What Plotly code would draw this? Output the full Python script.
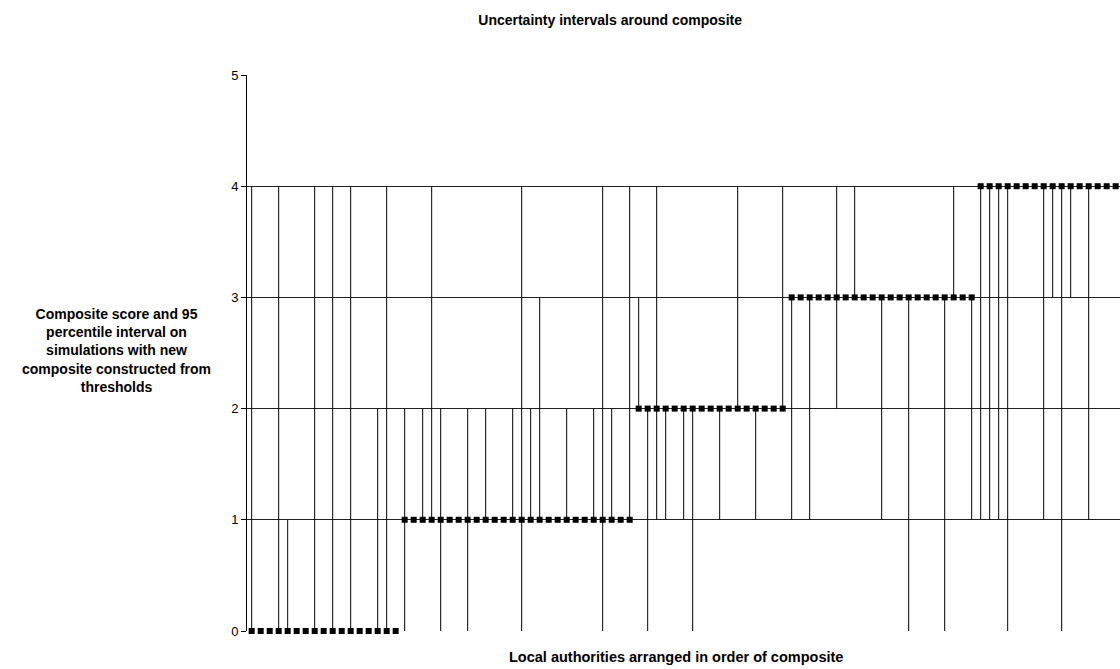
import plotly.graph_objects as go

# composite score per local authority (in ranked order) and 95 percentile interval
composite = [0] * 17 + [1] * 26 + [2] * 17 + [3] * 21 + [4] * 16
low = [0, 0, 0, 0, 0, 0, 0, 0, 0, 0, 0, 0, 0, 0, 0, 0, 0,
       0, 1, 1, 1, 0, 1, 1, 0, 1, 1, 1, 1, 1, 0, 1, 1, 1, 1, 1, 1, 1, 1, 0, 1, 1, 1,
       2, 0, 1, 1, 2, 1, 0, 2, 2, 1, 2, 2, 2, 1, 2, 2, 2,
       1, 3, 1, 3, 3, 2, 3, 3, 3, 3, 1, 3, 3, 0, 3, 3, 3, 0, 3, 3, 1,
       1, 1, 1, 0, 4, 4, 4, 1, 3, 0, 3, 4, 1, 4, 4, 4]
high = [4, 0, 0, 4, 1, 0, 0, 4, 0, 4, 0, 4, 0, 0, 2, 4, 0,
        2, 1, 2, 4, 2, 1, 1, 2, 1, 2, 1, 1, 2, 4, 2, 3, 1, 1, 2, 1, 1, 2, 4, 2, 1, 4,
        3, 2, 4, 2, 2, 2, 2, 2, 2, 2, 2, 4, 2, 2, 2, 2, 4,
        3, 3, 3, 3, 3, 4, 3, 4, 3, 3, 3, 3, 3, 3, 3, 3, 3, 3, 4, 3, 3,
        4, 4, 4, 4, 4, 4, 4, 4, 4, 4, 4, 4, 4, 4, 4, 4]
authority = list(range(1, len(composite) + 1))

FONT = "Liberation Sans, Arial, sans-serif"

fig = go.Figure()
fig.add_trace(go.Scatter(
    x=authority, y=composite,
    mode="markers",
    marker=dict(symbol="square", size=6, color="black"),
    error_y=dict(
        type="data", symmetric=False,
        array=[h - c for h, c in zip(high, composite)],
        arrayminus=[c - l for c, l in zip(composite, low)],
        width=0, thickness=1, color="black",
    ),
    cliponaxis=False,
    showlegend=False,
))

fig.update_layout(
    width=1120, height=669,
    margin=dict(l=247, r=0, t=75, b=38),
    paper_bgcolor="white", plot_bgcolor="white",
    font=dict(family=FONT, size=13, color="black"),
    title=dict(text="<b>Uncertainty intervals around composite</b>",
               x=0.6625, xanchor="right", y=0.970, yanchor="middle",
               font=dict(family=FONT, size=14, color="black")),
    xaxis=dict(range=[0.48, 97.48], showticklabels=False, ticks="",
               showgrid=False, zeroline=False, showline=False),
    yaxis=dict(range=[0, 5], dtick=1, ticks="outside", ticklen=5, tickcolor="black",
               showgrid=True, gridcolor="#222222", gridwidth=1,
               zeroline=False, showline=True, linecolor="black", linewidth=1,
               tickfont=dict(family=FONT, size=13, color="black")),
    annotations=[
        dict(text="<b>Local authorities arranged in order of composite</b>",
             xref="paper", yref="paper", x=0.491, y=-0.047,
             xanchor="center", yanchor="middle", showarrow=False,
             font=dict(family=FONT, size=14.5, color="black")),
        dict(text="<b>Composite score and 95<br>percentile interval on<br>simulations with new"
                  "<br>composite constructed from<br>thresholds</b>",
             xref="paper", yref="paper", x=-0.149, y=0.504,
             xanchor="center", yanchor="middle", align="center", showarrow=False,
             font=dict(family=FONT, size=14, color="black")),
    ],
)

# drop the page's default body margin so the figure sits at the window corner
fig.write_html("out.html", config={"displayModeBar": False},
               post_script="document.body.style.margin='0';")
